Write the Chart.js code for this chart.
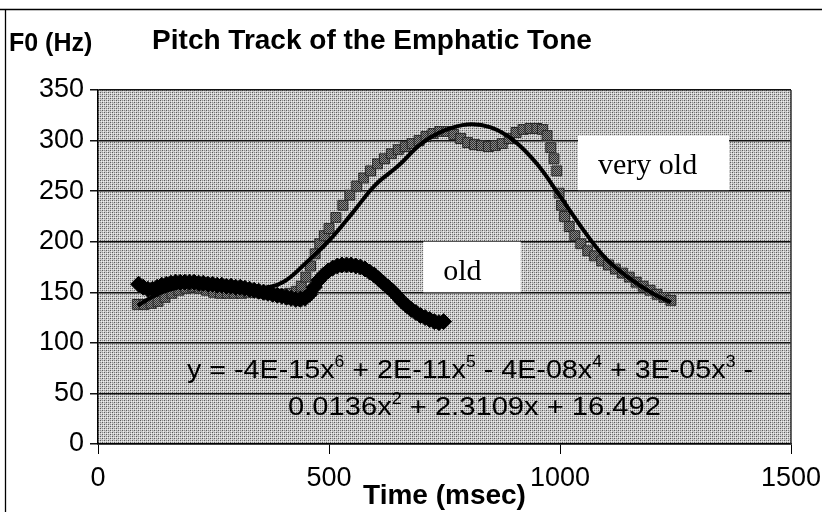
<!DOCTYPE html>
<html><head><meta charset="utf-8">
<script src="https://cdn.jsdelivr.net/npm/chart.js@4/dist/chart.umd.min.js"></script>
<style>html,body{margin:0;padding:0;background:#fff}#wrap{width:822px;height:520px;position:relative}</style>
</head><body><div id="wrap"><canvas id="c" width="822" height="520"></canvas></div>
<script>
// ---- data ----
const xTickValues = [0, 500, 1000, 1500];
const yTickValues = [0, 50, 100, 150, 200, 250, 300, 350];

const veryOldX = [85,100,115,130,145,160,175,190,205,220,235,250,265,280,295,310,325,340,355,370,385,400,415,430,
  440,450,460,470,480,490,500,
  515,530,545,560,575,590,605,620,635,650,665,680,695,710,725,740,755,770,785,800,815,830,845,860,875,890,905,920,935,950,
  962,972,980,987,993,998,1003,1010,1020,1032,1045,
  1060,1075,1090,1105,1120,1135,1150,1165,1180,1195,1210,1225,1240];
const veryOldY = [138,138,139,141,145,149,152,154,155,154,152,150,149,149,149,149,150,150,149,148,148,148,149,151,
  156,165,176,188,198,206,213,
  224,236,246,255,263,270,277,282,287,291,294,297,300,304,307,309,309,306,302,298,296,295,294,295,297,302,308,311,312,312,
  311,305,293,282,270,248,236,225,215,206,198,
  191,186,181,177,173,169,165,160,156,152,148,145,142];

const oldX = [88,98,108,118,128,138,148,158,168,178,188,198,208,218,228,238,248,258,268,278,288,298,308,318,328,338,348,358,368,378,388,398,408,418,428,438,448,458,468,478,488,498,508,518,528,538,548,558,568,578,588,598,608,618,628,638,648,658,668,678,688,698,708,718,728,738,748];
const oldY = [158,155,153,153,155,157,158,159,160,160,160,160,160,159,159,158,158,157,157,156,156,155,155,154,153,152,151,150,149,148,147,146,145,144,143,143,144,148,155,162,167,171,174,176,177,177,177,176,175,173,170,167,163,159,155,151,146,141,137,133,130,127,125,123,121,120,121];

const trendX = [86,120,150,200,250,300,350,400,450,500,550,600,650,700,750,800,850,900,950,1000,1050,1100,1150,1200,1240];
const trendY = [137,146,152,157,157,155,154,160,179,201,228,256,275,297,310,316,313,300,277,245,212,183,164,149,140];

const titleText = 'Pitch Track of the Emphatic Tone';
const yTitleText = 'F0 (Hz)';
const xTitleText = 'Time (msec)';
const eqLine1 = [['y = -4E-15x',0],['6',1],[' + 2E-11x',0],['5',1],[' - 4E-08x',0],['4',1],[' + 3E-05x',0],['3',1],[' -',0]];
const eqLine2 = [['0.0136x',0],['2',1],[' + 2.3109x + 16.492',0]];
const labelVeryOld = {text:'very old', x0:1039, x1:1366, y0:251, y1:305};
const labelOld = {text:'old', x0:704, x1:915, y0:150, y1:200};

const pts = (xs, ys) => xs.map((x, i) => ({x, y: ys[i]}));

// halftone-like pattern for plot background
function makePattern(ctx) {
  const p = document.createElement('canvas'); p.width = 4; p.height = 4;
  const g = p.getContext('2d');
  g.fillStyle = '#cacaca'; g.fillRect(0,0,4,4);
  g.fillStyle = '#5a5a5a'; g.fillRect(0,0,1,1); g.fillRect(2,2,1,1);
  g.fillStyle = '#8c8c8c'; g.fillRect(2,0,1,1); g.fillRect(0,2,1,1);
  g.fillStyle = '#ececec'; g.fillRect(1,1,1,1); g.fillRect(3,3,1,1); g.fillRect(3,1,1,1);
  return ctx.createPattern(p, 'repeat');
}
function makeSquarePattern(ctx) {
  const p = document.createElement('canvas'); p.width = 2; p.height = 2;
  const g = p.getContext('2d');
  g.fillStyle = '#8a8a8a'; g.fillRect(0,0,2,2);
  g.fillStyle = '#2e2e2e'; g.fillRect(0,0,1,1); g.fillRect(1,1,1,1);
  return ctx.createPattern(p, 'repeat');
}

const SANS = '"Liberation Sans", Arial, sans-serif';
const SERIF = '"Liberation Serif", "Times New Roman", serif';

function drawSegs(ctx, segs, left, baseline, targetW, size) {
  const main = size + 'px ' + SANS, sup = Math.round(size*0.62) + 'px ' + SANS;
  let w = 0;
  segs.forEach(([t, s]) => { ctx.font = s ? sup : main; w += ctx.measureText(t).width; });
  const k = targetW / w;
  ctx.save();
  ctx.translate(left, baseline);
  ctx.scale(k, 1);
  ctx.fillStyle = '#000';
  ctx.textBaseline = 'alphabetic';
  ctx.textAlign = 'left';
  let x = 0;
  segs.forEach(([t, s]) => {
    ctx.font = s ? sup : main;
    ctx.fillText(t, x, s ? -size*0.42 : 0);
    x += ctx.measureText(t).width;
  });
  ctx.restore();
}

const bgPlugin = {
  id: 'bg',
  beforeDraw(chart) {
    const {ctx, chartArea: a} = chart;
    ctx.save();
    ctx.fillStyle = '#fff'; ctx.fillRect(0, 0, chart.width, chart.height);
    ctx.fillStyle = makePattern(ctx);
    ctx.fillRect(a.left, a.top, a.right - a.left, a.bottom - a.top);
    ctx.restore();
  },
  afterDraw(chart) {
    const {ctx, chartArea: a, scales: {x, y}} = chart;
    ctx.save();
    ctx.strokeStyle = '#333'; ctx.lineWidth = 1.5;
    ctx.beginPath(); ctx.moveTo(a.right, a.top); ctx.lineTo(a.right, a.bottom); ctx.stroke();
    // outer frame
    ctx.strokeStyle = '#000'; ctx.lineWidth = 1.3;
    ctx.beginPath(); ctx.moveTo(0, 9.5); ctx.lineTo(822, 9.5); ctx.stroke();
    ctx.beginPath(); ctx.moveTo(5.5, 9); ctx.lineTo(5.5, 512); ctx.stroke();
    // label boxes
    [labelVeryOld, labelOld].forEach(L => {
      const l = x.getPixelForValue(L.x0), r = x.getPixelForValue(L.x1);
      const t = y.getPixelForValue(L.y1), b = y.getPixelForValue(L.y0);
      ctx.fillStyle = '#fff';
      ctx.fillRect(l, t, r - l, b - t);
      ctx.fillStyle = '#000';
      ctx.font = '30px ' + SERIF;
      ctx.textBaseline = 'alphabetic'; ctx.textAlign = 'left';
      ctx.fillText(L.text, l + 20, t + 38);
    });
    // titles
    ctx.fillStyle = '#000';
    ctx.textBaseline = 'middle';
    ctx.font = 'bold 28px ' + SANS; ctx.textAlign = 'center';
    ctx.fillText(titleText, 372, 41);
    ctx.font = 'bold 25px ' + SANS; ctx.textAlign = 'left';
    ctx.fillText(yTitleText, 9, 44);
    ctx.font = 'bold 28px ' + SANS; ctx.textAlign = 'center';
    ctx.fillText(xTitleText, (a.left + a.right) / 2, 496);
    // equation
    drawSegs(ctx, eqLine1, 187, 378, 566, 26);
    drawSegs(ctx, eqLine2, 288, 415, 373, 26);
    ctx.restore();
  }
};

const ctx = document.getElementById('c').getContext('2d');
new Chart(ctx, {
  type: 'scatter',
  data: {
    datasets: [
      { label: 'trend', data: pts(trendX, trendY), showLine: true, borderColor: '#000', borderWidth: 4,
        pointRadius: 0, tension: 0.4, fill: false, order: 0 },
      { label: 'old', data: pts(oldX, oldY), pointStyle: 'rectRot', pointRadius: 8,
        backgroundColor: '#000', borderColor: '#000', borderWidth: 1, showLine: false, order: 1 },
      { label: 'very old', data: pts(veryOldX, veryOldY), pointStyle: 'rect', pointRadius: 7,
        backgroundColor: makeSquarePattern(ctx), borderColor: '#2a2a2a', borderWidth: 1, showLine: false, order: 2 }
    ]
  },
  options: {
    responsive: false, animation: false, devicePixelRatio: 1,
    layout: { padding: { top: 90, right: 31, left: 0, bottom: 0 } },
    plugins: { legend: { display: false }, title: { display: false }, tooltip: { enabled: false } },
    scales: {
      x: {
        type: 'linear', min: 0, max: 1500,
        afterBuildTicks: s => { s.ticks = xTickValues.map(v => ({value: v})); },
        afterFit: s => { s.height = 76; s.paddingLeft = 0; s.paddingRight = 0; },
        ticks: { color: '#000', font: { family: SANS, size: 27 }, padding: 8, maxRotation: 0,
                 callback: v => String(v) },
        grid: { drawOnChartArea: false, drawTicks: true, tickLength: 10, color: '#000', lineWidth: 1 },
        border: { display: true, color: '#000', width: 1.5 }
      },
      y: {
        min: 0, max: 350,
        afterBuildTicks: s => { s.ticks = yTickValues.map(v => ({value: v})); },
        afterFit: s => { s.width = 98; s.paddingTop = 0; s.paddingBottom = 0; },
        ticks: { color: '#000', font: { family: SANS, size: 27 }, padding: 6, callback: v => String(v) },
        grid: { color: '#111', lineWidth: 1.5, tickLength: 8, drawTicks: true },
        border: { display: true, color: '#000', width: 1.5 }
      }
    }
  },
  plugins: [bgPlugin]
});
</script></body></html>
